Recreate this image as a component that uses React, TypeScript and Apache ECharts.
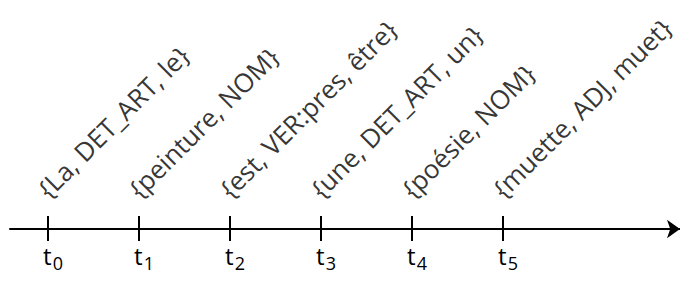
import React, { useEffect, useRef } from "react";
import * as echarts from "echarts";

const steps = [0, 1, 2, 3, 4, 5];
const tickLabels = ["0", "1", "2", "3", "4", "5"];
const annotations = [
  "{La, DET_ART, le}",
  "{peinture, NOM}",
  "{est, VER:pres, être}",
  "{une, DET_ART, un}",
  "{poésie, NOM}",
  "{muette, ADJ, muet}",
];

const FONT = "Open Sans";

export default function App() {
  const ref = useRef<HTMLDivElement>(null);
  useEffect(() => {
    if (!ref.current) return;
    const chart = echarts.init(ref.current, null, { renderer: "svg" });
    const baseAxis = {
      type: "value" as const,
      min: -0.418,
      max: 6.945,
      splitLine: { show: false },
    };
    chart.setOption({
      animation: false,
      grid: { left: 10, right: 0, top: 0, bottom: 53, containLabel: false },
      xAxis: [
        {
          ...baseAxis,
          position: "bottom",
          axisLine: {
            show: true,
            symbol: ["none", "arrow"],
            symbolSize: [14, 13],
            lineStyle: { color: "#000", width: 2 },
          },
          axisTick: {
            show: true,
            customValues: steps,
            length: 12,
            inside: false,
            lineStyle: { color: "#000", width: 2 },
          },
          axisLabel: {
            show: true,
            customValues: steps,
            margin: 14,
            align: "center",
            formatter: (v: number) => `{t|t}{s|${tickLabels[Math.round(v)]}}`,
            rich: {
              t: { fontFamily: FONT, fontSize: 24, color: "#000", verticalAlign: "bottom", padding: [0, 1, 5, 10] },
              s: { fontFamily: FONT, fontSize: 18, color: "#000", verticalAlign: "bottom" },
            },
          },
        },
        {
          ...baseAxis,
          position: "bottom",
          offset: 0,
          axisLine: { show: false },
          axisTick: {
            show: true,
            customValues: steps,
            length: 13,
            inside: true,
            lineStyle: { color: "#000", width: 2 },
          },
          axisLabel: { show: false },
        },
      ],
      yAxis: { type: "value", min: 0, max: 229, show: false },
      series: [
        {
          type: "scatter",
          xAxisIndex: 0,
          symbolSize: 0,
          data: steps.map((s, i) => ({ value: [s, 24], name: annotations[i] })),
          label: {
            show: true,
            position: [3, -3],
            rotate: 45,
            align: "left",
            verticalAlign: "bottom",
            formatter: (p: any) => p.name,
            fontFamily: FONT,
            fontSize: 26,
            color: "#000",
          },
        },
      ],
    });
    return () => chart.dispose();
  }, []);
  return <div ref={ref} style={{ width: 680, height: 282, position: "absolute", left: 0, top: 0 }} />;
}
